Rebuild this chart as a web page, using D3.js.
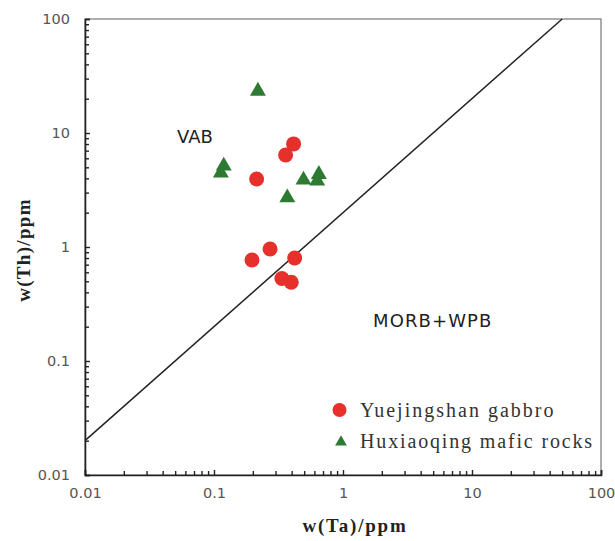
<!DOCTYPE html>
<html><head><meta charset="utf-8">
<script src="https://cdn.jsdelivr.net/npm/d3@7"></script>
<style>body{margin:0;background:#fff}</style>
</head><body>
<svg id="c" width="615" height="541"></svg>
<script>
const xTicks = [0.01, 0.1, 1, 10, 100];
const yTicks = [0.01, 0.1, 1, 10, 100];
const gabbroTa = [0.414, 0.359, 0.214, 0.272, 0.197, 0.422, 0.336, 0.397];
const gabbroTh = [8.02, 6.41, 3.95, 0.96, 0.77, 0.80, 0.53, 0.49];
const maficTa = [0.219, 0.119, 0.113, 0.494, 0.650, 0.631, 0.370];
const maficTh = [23.8, 5.24, 4.55, 3.95, 4.43, 3.87, 2.76];
const lineTa = [0.01, 50];
const lineTh = [0.02, 100];
const seriesNames = ["Yuejingshan gabbro", "Huxiaoqing mafic rocks"];

const svg = d3.select("#c");
const L = 85, R = 601, T = 19, B = 475;
const x = d3.scaleLog().domain([0.01, 100]).range([L, R]);
const y = d3.scaleLog().domain([0.01, 100]).range([B, T]);
const red = "#e5302b", green = "#2e7a32";

// frame
svg.append("rect").attr("x", L).attr("y", T).attr("width", R - L).attr("height", B - T)
  .attr("fill", "none").attr("stroke", "#777").attr("stroke-width", 1.2);

const minor = [];
for (let e = -2; e < 2; e++) for (let m = 2; m <= 9; m++) minor.push(m * Math.pow(10, e));

// x axis
const gx = svg.append("g").attr("transform", `translate(0,${B})`);
gx.call(d3.axisBottom(x).tickValues(minor).tickSize(-4).tickFormat(""));
gx.call(g => g.select(".domain").remove());
const gx2 = svg.append("g").attr("transform", `translate(0,${B})`);
gx2.call(d3.axisBottom(x).tickValues(xTicks).tickSize(-5).tickPadding(13).tickFormat(d => String(d)));
gx2.select(".domain").attr("stroke", "#222").attr("stroke-width", 1.6);
gx2.selectAll("text").attr("font-family", "DejaVu Sans, sans-serif").attr("font-size", 14.5).attr("fill", "#555");

// y axis
const gy = svg.append("g").attr("transform", `translate(${L},0)`);
gy.call(d3.axisLeft(y).tickValues(minor).tickSize(-4).tickFormat(""));
gy.call(g => g.select(".domain").remove());
const gy2 = svg.append("g").attr("transform", `translate(${L},0)`);
gy2.call(d3.axisLeft(y).tickValues(yTicks).tickSize(-5).tickPadding(15).tickFormat(d => String(d)));
gy2.select(".domain").attr("stroke", "#222").attr("stroke-width", 1.6);
gy2.selectAll("text").attr("font-family", "DejaVu Sans, sans-serif").attr("font-size", 14.5).attr("fill", "#555");
svg.selectAll("g line").attr("stroke", "#222").attr("stroke-width", 1.4);

// discriminant line
svg.append("line")
  .attr("x1", x(lineTa[0])).attr("y1", y(lineTh[0]))
  .attr("x2", x(lineTa[1])).attr("y2", y(lineTh[1]))
  .attr("stroke", "#222").attr("stroke-width", 1.5);

// field labels
svg.append("text").attr("x", 177).attr("y", 143).text("VAB")
  .attr("font-family", "DejaVu Sans, sans-serif").attr("font-size", 18).attr("fill", "#222");
svg.append("text").attr("x", 373).attr("y", 327).text("MORB+WPB")
  .attr("font-family", "DejaVu Sans, sans-serif").attr("font-size", 18).attr("letter-spacing", 1.1).attr("fill", "#222");

const tri = d3.symbol().type(d3.symbolTriangle).size(110);

// data
svg.append("g").selectAll("path").data(maficTa.map((d, i) => [d, maficTh[i]])).join("path")
  .attr("d", tri).attr("transform", d => `translate(${x(d[0])},${y(d[1]) + 1})`).attr("fill", green);
svg.append("g").selectAll("circle").data(gabbroTa.map((d, i) => [d, gabbroTh[i]])).join("circle")
  .attr("cx", d => x(d[0])).attr("cy", d => y(d[1])).attr("r", 7.5).attr("fill", red);

// legend
svg.append("circle").attr("cx", 339.5).attr("cy", 410).attr("r", 7).attr("fill", red);
svg.append("path").attr("d", d3.symbol().type(d3.symbolTriangle).size(60))
  .attr("transform", "translate(341,442)").attr("fill", green);
svg.append("text").attr("x", 360).attr("y", 416.5).text(seriesNames[0])
  .attr("font-family", "Liberation Serif, serif").attr("font-size", 20).attr("letter-spacing", 2).attr("fill", "#333");
svg.append("text").attr("x", 360).attr("y", 448).text(seriesNames[1])
  .attr("font-family", "Liberation Serif, serif").attr("font-size", 20).attr("letter-spacing", 1.85).attr("fill", "#333");

// axis titles
svg.append("text").attr("x", 355).attr("y", 532).attr("text-anchor", "middle").text("w(Ta)/ppm")
  .attr("font-family", "Liberation Serif, serif").attr("font-weight", "bold").attr("font-size", 19)
  .attr("letter-spacing", 1.8).attr("fill", "#222");
svg.append("text").attr("transform", `translate(30,250) rotate(-90)`).attr("text-anchor", "middle").text("w(Th)/ppm")
  .attr("font-family", "Liberation Serif, serif").attr("font-weight", "bold").attr("font-size", 19)
  .attr("letter-spacing", 1.3).attr("fill", "#222");
</script>
</body></html>
